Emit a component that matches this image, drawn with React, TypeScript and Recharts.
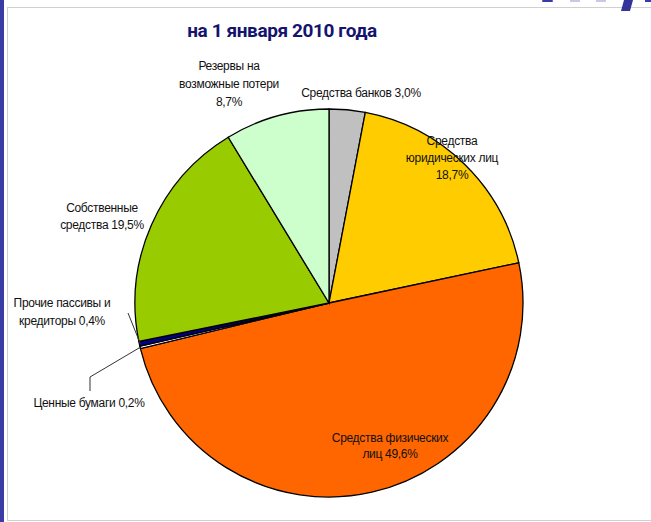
import React from 'react';
import { Pie, PieChart, Cell } from 'recharts';

const categories = [
  'Средства банков',
  'Средства юридических лиц',
  'Средства физических лиц',
  'Ценные бумаги',
  'Прочие пассивы и кредиторы',
  'Собственные средства',
  'Резервы на возможные потери'
];

const shares = [3.0, 18.7, 49.6, 0.2, 0.4, 19.5, 8.7];

// how each label is broken into lines, {p} is the share
const labelTemplates = [
  ['Средства банков {p}'],
  ['Средства', 'юридических лиц', '{p}'],
  ['Средства физических', 'лиц {p}'],
  ['Ценные бумаги {p}'],
  ['Прочие пассивы и', 'кредиторы {p}'],
  ['Собственные', 'средства {p}'],
  ['Резервы на', 'возможные потери', '{p}']
];

const colors = ['#C0C0C0', '#FFCC00', '#FF6600', '#FFFFFF', '#000080', '#99CC00', '#CCFFCC'];

// label anchor (centre x, first line y) and line height
const labelSpots = [
  { x: 361, y: 93, lh: 17 },
  { x: 452, y: 141, lh: 17 },
  { x: 390, y: 438, lh: 16 },
  { x: 89, y: 403, lh: 17 },
  { x: 62, y: 303, lh: 18 },
  { x: 102, y: 208, lh: 17 },
  { x: 229, y: 66, lh: 18 }
];

const data = categories.map((name, i) => ({ name, value: shares[i] }));

const RAD = Math.PI / 180;

const fmt = (v: number) => v.toFixed(1).replace('.', ',') + '%';

const renderLabel = (props: any) => {
  const { cx, cy, midAngle, outerRadius, index } = props;
  const spot = labelSpots[index];
  const lines = labelTemplates[index].map((t) => t.replace('{p}', fmt(shares[index])));
  const ex = cx + outerRadius * Math.cos(-midAngle * RAD);
  const ey = cy + outerRadius * Math.sin(-midAngle * RAD);
  let leader = null;
  if (index === 3) {
    leader = (
      <polyline
        fill='none'
        points={`${spot.x + 1},${spot.y - 12} ${spot.x + 1},${spot.y - 26} ${ex},${ey}`}
        stroke='#333'
        strokeWidth={1}
      />
    );
  }
  if (index === 4) {
    leader = (
      <polyline
        fill='none'
        points={`${spot.x + 66},${spot.y + 10} ${ex + 1},${ey}`}
        stroke='#333'
        strokeWidth={1}
      />
    );
  }
  return (
    <g key={`lbl-${index}`}>
      {leader}
      <text
        dominantBaseline='central'
        fill='#111'
        fontFamily='Liberation Sans, Arial, sans-serif'
        fontSize={12}
        letterSpacing={-0.3}
        textAnchor='middle'
        x={spot.x}
        y={spot.y}
      >
        {lines.map((l, k) => (
          <tspan key={k} x={spot.x} dy={k === 0 ? 0 : spot.lh}>{l}</tspan>
        ))}
      </text>
    </g>
  );
};

function App (): JSX.Element {
  return (
    <div style={{ position: 'relative', width: 651, height: 522, background: '#fff', overflow: 'hidden' }}>
      <style>{'body{margin:0}'}</style>
      <div style={{ position: 'absolute', left: 0, top: 0, width: 4, height: 522, background: '#3b3ba6' }} />
      <div style={{ position: 'absolute', left: 7, top: 7, width: 660, height: 514, border: '1px solid #d0d0d0', boxSizing: 'border-box' }} />
      {/* bottom edge of the slide heading, cut off by the crop */}
      <svg height={14} style={{ position: 'absolute', left: 520, top: 0 }} width={131}>
        <rect fill='#3b3ba6' height={2} rx={1} width={11} x={22} y={0} />
        <rect fill='#c8c8e8' height={2} width={10} x={50} y={0} />
        <rect fill='#c8c8e8' height={2} width={10} x={76} y={0} />
        <polygon fill='#333399' points='104,0 113,0 110,11 101,11' />
        <rect fill='#3b3ba6' height={2} width={6} x={125} y={0} />
      </svg>
      <div style={{ position: 'absolute', left: 0, top: 0 }}>
        <PieChart height={522} margin={{ top: 0, right: 0, bottom: 0, left: 0 }} width={651}>
          <text
            fill='#14146e'
            fontFamily='Roboto, sans-serif'
            fontSize={19}
            fontWeight={700}
            letterSpacing={-0.4}
            textAnchor='middle'
            x={282}
            y={37}
          >
            на 1 января 2010 года
          </text>
          <Pie
            cx={329}
            cy={303}
            data={data}
            dataKey='value'
            endAngle={-270}
            isAnimationActive={false}
            label={renderLabel}
            labelLine={false}
            nameKey='name'
            outerRadius={194}
            startAngle={90}
            stroke='#000'
            strokeWidth={1.3}
          >
            {data.map((d, i) => (
              <Cell fill={colors[i]} key={d.name} />
            ))}
          </Pie>
        </PieChart>
      </div>
    </div>
  );
}

export default App;
